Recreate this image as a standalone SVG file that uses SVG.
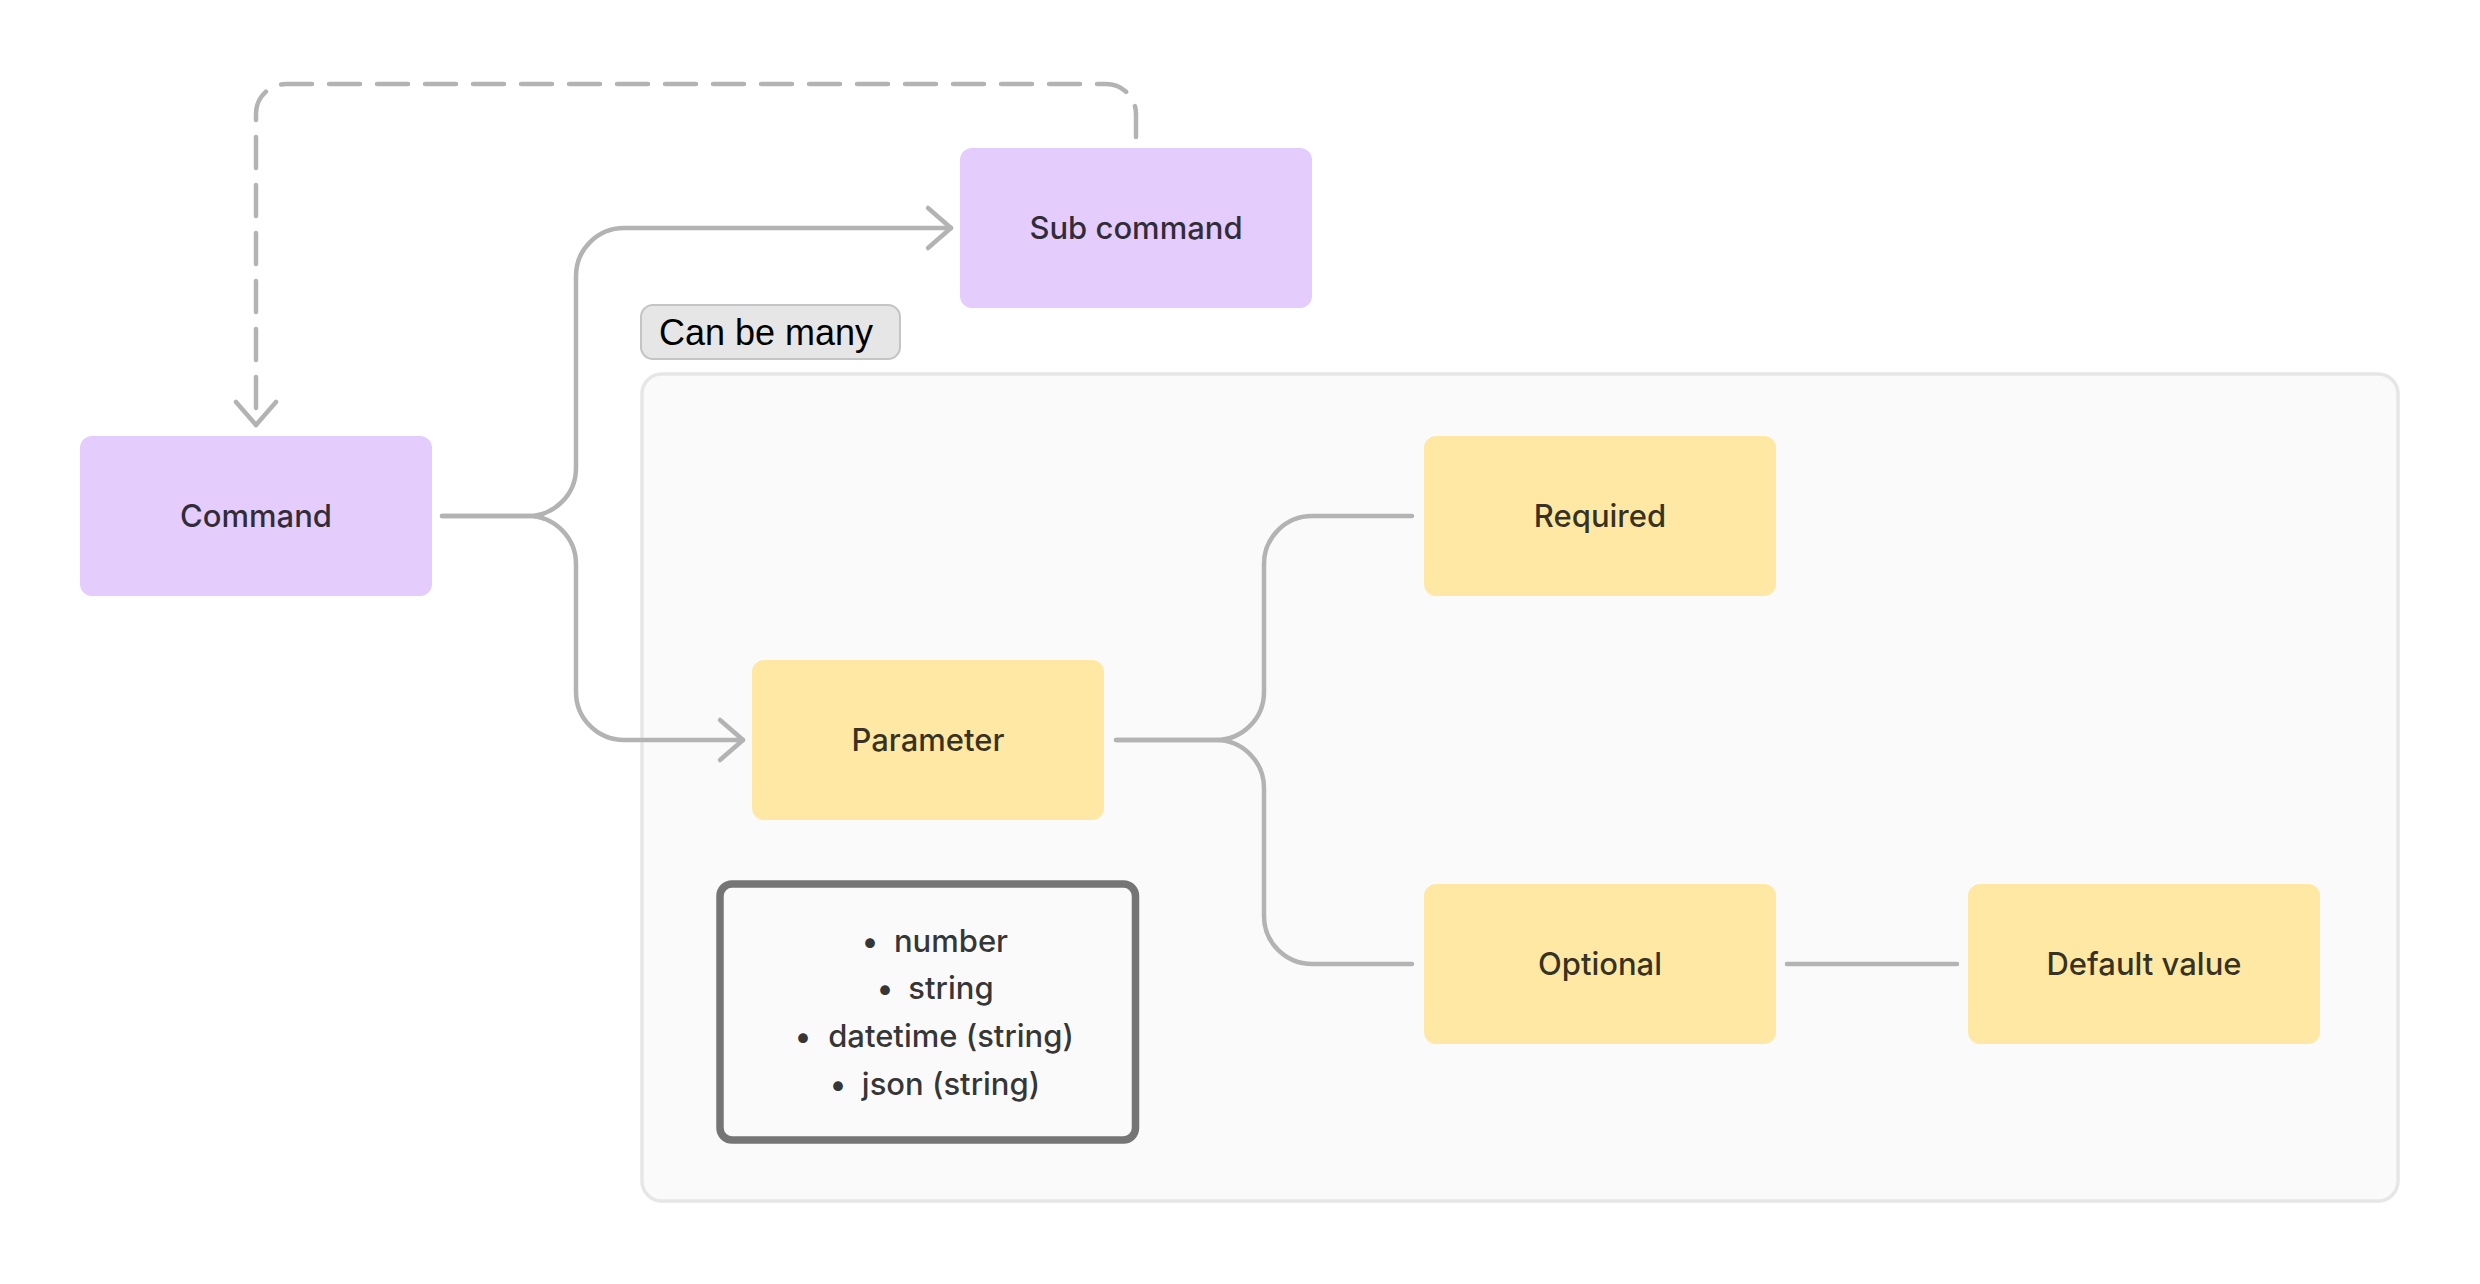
<svg xmlns="http://www.w3.org/2000/svg" width="2480" height="1284" viewBox="0 0 2480 1284">
<style>
.bg{fill:#ffffff}
.purple{fill:#e4ccfd}
.yellow{fill:#ffe8a3}
.lbl{font-family:Inter,"Noto Sans",sans-serif;font-size:31px;font-weight:500;fill:#000000;fill-opacity:0.8;text-anchor:middle}
.li{font-family:Inter,"Noto Sans",sans-serif;font-size:31px;font-weight:500;fill:#000000;fill-opacity:0.8}
.conn{fill:none;stroke:#b3b3b3;stroke-width:4.5;stroke-linecap:round;stroke-linejoin:round}
.dash{stroke-dasharray:31 17}
</style>
<defs>
<marker id="chev" markerUnits="userSpaceOnUse" markerWidth="40" markerHeight="50" viewBox="-30 -25 36 50" refX="0" refY="0" orient="auto">
<path d="M -23 -20 L 0 0 L -23 20" fill="none" stroke="#b3b3b3" stroke-width="4.5" stroke-linecap="round" stroke-linejoin="round"/>
</marker>
</defs>
<rect class="bg" x="0" y="0" width="2480" height="1284"/>
<g id="container">
<rect x="642" y="374" width="1756" height="827" rx="20" fill="#fafafa" stroke="#e6e6e6" stroke-width="3.5"/>
</g>
<g id="label-can-be-many">
<rect x="641" y="305" width="259" height="54" rx="12" fill="#e6e6e6" stroke="#c4c4c4" stroke-width="2"/>
<text x="659" y="345" font-family="'Liberation Sans',Arial,sans-serif" font-size="36" fill="#000000">Can be many</text>
</g>
<g id="connectors">
<path class="conn dash" d="M 1136 137 L 1136 114 A 30 30 0 0 0 1106 84 L 286 84 A 30 30 0 0 0 256 114 L 256 425" marker-end="url(#chev)"/>
<path class="conn" d="M 442 516 L 528 516 A 48 48 0 0 0 576 468 L 576 276 A 48 48 0 0 1 624 228 L 951 228" marker-end="url(#chev)"/>
<path class="conn" d="M 442 516 L 528 516 A 48 48 0 0 1 576 564 L 576 692 A 48 48 0 0 0 624 740 L 743 740" marker-end="url(#chev)"/>
<path class="conn" d="M 1116 740 L 1216 740 A 48 48 0 0 0 1264 692 L 1264 564 A 48 48 0 0 1 1312 516 L 1412 516"/>
<path class="conn" d="M 1116 740 L 1216 740 A 48 48 0 0 1 1264 788 L 1264 916 A 48 48 0 0 0 1312 964 L 1412 964"/>
<path class="conn" d="M 1787 964 L 1957 964"/>
</g>
<g id="command">
<rect class="purple" x="80" y="436" width="352" height="160" rx="12"/>
<text class="lbl" x="256" y="527">Command</text>
</g>
<g id="sub-command">
<rect class="purple" x="960" y="148" width="352" height="160" rx="12"/>
<text class="lbl" x="1136" y="239">Sub command</text>
</g>
<g id="parameter">
<rect class="yellow" x="752" y="660" width="352" height="160" rx="12"/>
<text class="lbl" x="928" y="751">Parameter</text>
</g>
<g id="required">
<rect class="yellow" x="1424" y="436" width="352" height="160" rx="12"/>
<text class="lbl" x="1600" y="527">Required</text>
</g>
<g id="optional">
<rect class="yellow" x="1424" y="884" width="352" height="160" rx="12"/>
<text class="lbl" x="1600" y="975">Optional</text>
</g>
<g id="default-value">
<rect class="yellow" x="1968" y="884" width="352" height="160" rx="12"/>
<text class="lbl" x="2144" y="975">Default value</text>
</g>
<g id="types">
<rect x="720" y="884" width="415.5" height="256" rx="12" fill="#fafafa" stroke="#757575" stroke-width="7.5"/>
<text class="li" x="870" y="952" text-anchor="middle">•</text>
<text class="li" x="951" y="952" text-anchor="middle">number</text>
<text class="li" x="885" y="999" text-anchor="middle">•</text>
<text class="li" x="951" y="999" text-anchor="middle">string</text>
<text class="li" x="803" y="1047" text-anchor="middle">•</text>
<text class="li" x="951" y="1047" text-anchor="middle">datetime (string)</text>
<text class="li" x="838" y="1095" text-anchor="middle">•</text>
<text class="li" x="951" y="1095" text-anchor="middle">json (string)</text>
</g>
</svg>
